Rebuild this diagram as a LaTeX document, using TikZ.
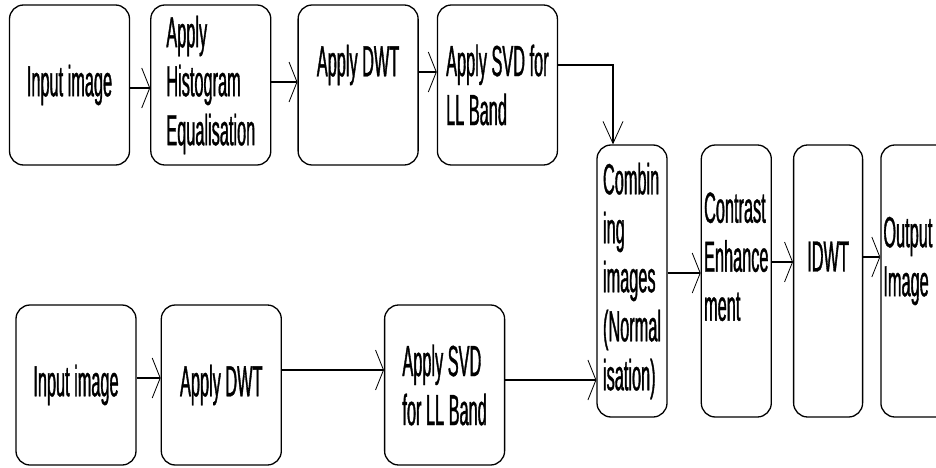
\documentclass[tikz,border=0pt]{standalone}
\usepackage{fontspec}
\setmainfont{Liberation Sans}[FakeStretch=0.375, FakeBold=0.8]
\usetikzlibrary{arrows.meta,positioning}

\begin{document}
\begin{tikzpicture}[x=1pt, y=-1pt, font=\fontsize{43.5}{49}\selectfont,
  bx/.style={draw, line width=1.3pt, rounded corners=14pt, minimum width=120pt,
    minimum height=160pt, align=left, inner sep=2pt},
  tall/.style={bx, minimum width=70pt, minimum height=272pt},
  harr/.style={line width=2pt, -{Straight Barb[length=8pt, width=40pt, line width=0.8pt]}},
  varr/.style={line width=2pt, -{Straight Barb[length=22pt, width=20pt, line width=0.8pt]}}]
  \path[use as bounding box, fill=white] (0,0) rectangle (936,468);
  % upper branch
  \node[bx] (in1) at (69.5,85) {Input image};
  \node[bx, right=20pt of in1] (histeq) {Apply\\Histogram\\Equalisation};
  \node[bx, right=26pt of histeq] (dwt1) {Apply DWT\\\mbox{}};
  \node[bx, right=18pt of dwt1] (svd1) {Apply SVD for\\LL Band};
  % lower branch
  \node[bx] (in2) at (76,385) {Input image};
  \node[bx, right=24pt of in2] (dwt2) {Apply DWT};
  \node[bx, right=102pt of dwt2] (svd2) {Apply SVD\\for LL Band};
  % common part
  \node[tall] (comb) at (632,281) {Combin\\ing\\images\\(Normal\\isation)};
  \node[tall, right=33pt of comb] (contr) {Contrast\\Enhance\\ment\\\mbox{}};
  \node[tall, minimum width=69pt, right=21pt of contr] (idwt) {IDWT\\\mbox{}};
  \node[tall, text width=65pt, right=17pt of idwt] (out) {Output\\Image\\\mbox{}};
  \draw[harr] ([yshift=-3pt]in1.east) -- ([yshift=-3pt]histeq.west);
  \draw[harr] ([yshift=3pt]histeq.east) -- ([yshift=3pt]dwt1.west);
  \draw[harr] ([yshift=13pt]dwt1.east) -- ([yshift=13pt]svd1.west);
  \draw[varr] ([yshift=20pt]svd1.east) -| ([xshift=-19pt]comb.north);
  \draw[harr] ([yshift=7pt]in2.east) -- ([yshift=7pt]dwt2.west);
  \draw[harr] ([yshift=15pt]dwt2.east) -- ([yshift=15pt]svd2.west);
  \draw[harr] ([yshift=5pt]svd2.east) -- ([yshift=5pt]svd2.east -| comb.west);
  \draw[harr] ([yshift=8pt]comb.east) -- ([yshift=8pt]contr.west);
  \draw[harr] ([yshift=19pt]contr.east) -- ([yshift=19pt]idwt.west);
  \draw[harr] ([yshift=24pt]idwt.east) -- ([yshift=24pt]out.west);
\end{tikzpicture}
\end{document}
